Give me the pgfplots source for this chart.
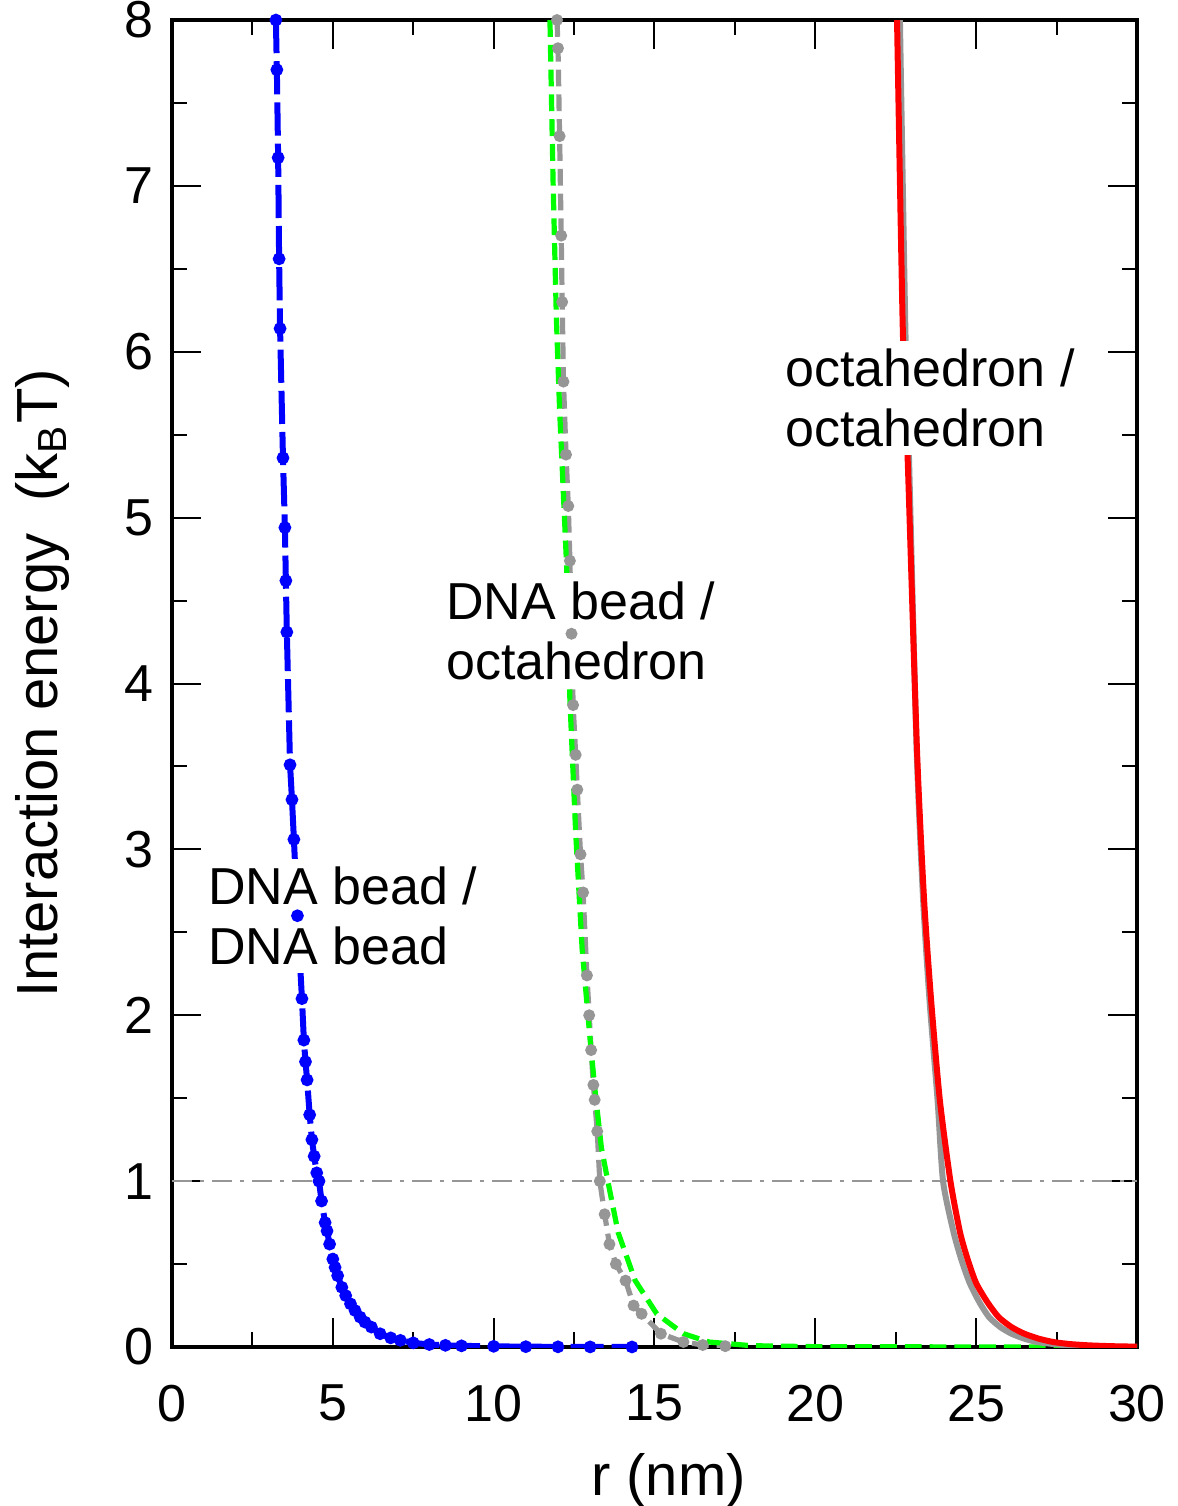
\documentclass[border=0pt]{standalone}
\usepackage{pgfplots}
\pgfplotsset{compat=1.18}
\usepackage{fontspec}
\setmainfont{Liberation Sans}

\definecolor{simgray}{RGB}{150,150,150}

\pgfplotstableread{
r E
3.23 8.00
3.26 7.70
3.30 7.17
3.33 6.56
3.36 6.14
3.45 5.36
3.51 4.94
3.54 4.62
3.57 4.31
3.67 3.51
3.73 3.30
3.79 3.06
3.90 2.60
4.04 2.10
4.10 1.85
4.15 1.72
4.20 1.61
4.28 1.40
4.35 1.25
4.42 1.15
4.50 1.05
4.57 1.00
4.65 0.88
4.76 0.75
4.82 0.70
4.90 0.62
5.00 0.53
5.07 0.48
5.15 0.43
5.28 0.36
5.40 0.31
5.55 0.26
5.69 0.22
5.85 0.18
6.00 0.15
6.20 0.12
6.47 0.08
6.80 0.055
7.10 0.04
7.50 0.025
8.00 0.015
8.50 0.010
9.00 0.007
10.0 0.004
11.0 0.002
12.0 0.001
13.0 0.0005
14.3 0.0002
}\beadbead

\pgfplotstableread{
r E
11.97 8.00
12.00 7.83
12.05 7.30
12.10 6.70
12.13 6.30
12.17 5.82
12.25 5.38
12.32 5.07
12.37 4.74
12.42 4.30
12.47 3.87
12.55 3.57
12.60 3.36
12.70 2.97
12.78 2.74
12.90 2.24
12.97 2.00
13.03 1.79
13.10 1.58
13.14 1.49
13.22 1.30
13.30 1.00
13.45 0.80
13.60 0.62
13.80 0.50
14.10 0.40
14.35 0.25
14.60 0.20
15.20 0.08
15.90 0.03
16.50 0.012
17.20 0.005
}\beadoctasim

\pgfplotstableread{
r E
11.75 8.00
11.85 7.00
11.95 6.20
12.05 5.65
12.27 4.70
12.37 3.90
12.55 3.10
12.75 2.40
13.00 1.85
13.15 1.55
13.35 1.20
13.55 1.00
13.87 0.69
14.40 0.40
15.07 0.20
15.90 0.08
16.70 0.03
18.00 0.008
20.00 0.002
25.00 0.0005
30.00 0.0001
}\beadoctath

\pgfplotstableread{
r E
22.63 8.00
22.80 6.13
22.92 5.30
23.15 3.60
23.35 2.70
23.55 2.09
23.80 1.49
23.97 1.00
24.30 0.69
24.55 0.52
24.80 0.385
25.10 0.27
25.40 0.18
25.75 0.12
26.10 0.08
26.50 0.05
26.90 0.03
27.40 0.018
28.00 0.008
29.00 0.002
30.00 0.001
}\octaoctasim

\pgfplotstableread{
r E
22.54 8.00
22.72 6.13
22.88 5.30
23.16 3.60
23.38 2.70
23.60 2.09
23.87 1.49
24.20 1.00
24.50 0.69
24.75 0.52
25.00 0.385
25.35 0.27
25.70 0.18
26.10 0.12
26.50 0.08
26.95 0.05
27.40 0.03
27.90 0.018
28.50 0.010
29.20 0.005
30.00 0.002
}\octaoctath

\begin{document}
\begin{tikzpicture}
\path[use as bounding box] (-43pt,-39.75pt) rectangle (251.25pt,336.75pt);
\begin{axis}[
    scale only axis,
    width=241.25pt, height=331.75pt,
    xmin=0, xmax=30, ymin=0, ymax=8,
    xtick={0,5,...,30}, ytick={0,1,...,8},
    minor x tick num=1, minor y tick num=1,
    tick align=inside,
    major tick length=7.25pt, minor tick length=3.75pt,
    every tick/.style={black, line width=0.5pt},
    axis line style={line width=1.1pt},
    /pgf/number format/assume math mode=true,
    tick label style={font=\fontsize{13}{15}\selectfont},
    xticklabel style={yshift=-6pt},
    yticklabel style={xshift=-1pt},
    label style={font=\fontsize{14.5}{17}\selectfont},
    xlabel={r (nm)},
    ylabel={Interaction energy\ \ (k\textsubscript{B}T)},
    xlabel style={yshift=-1pt, xshift=3.5pt},
    ylabel style={yshift=7pt},
]
  % reference level 1 kT
  \addplot[simgray, line width=0.5pt, dash pattern=on 5pt off 2pt on 1pt off 2pt]
    coordinates {(0,1) (30,1)};

  % DNA bead / DNA bead
  \addplot[blue, line width=1.5pt, dash pattern=on 8.3pt off 2pt,
    mark=*, mark size=0.8pt, mark options={solid}] table {\beadbead};

  % DNA bead / octahedron
  \addplot[simgray, line width=1.3pt, dash pattern=on 4.2pt off 2pt,
    mark=*, mark size=0.8pt, mark options={solid}] table {\beadoctasim};
  \addplot[green, line width=1.3pt, dash pattern=on 4.2pt off 2pt] table {\beadoctath};

  % octahedron / octahedron
  \addplot[simgray, line width=1.5pt, smooth, tension=0.4] table {\octaoctasim};
  \addplot[red, line width=1.5pt, smooth, tension=0.4] table {\octaoctath};

  \node[anchor=west, align=left, fill=white, inner sep=2pt,
    font=\fontsize{13}{15}\selectfont] at (axis cs:0.85,2.6) {DNA bead /\\DNA bead};
  \node[anchor=west, align=left, fill=white, inner sep=2pt,
    font=\fontsize{13}{15}\selectfont] at (axis cs:8.25,4.32) {DNA bead /\\octahedron};
  \node[anchor=west, align=left, fill=white, inner sep=2pt,
    font=\fontsize{13}{15}\selectfont] at (axis cs:18.8,5.72) {octahedron /\\octahedron};
\end{axis}
\end{tikzpicture}
\end{document}
